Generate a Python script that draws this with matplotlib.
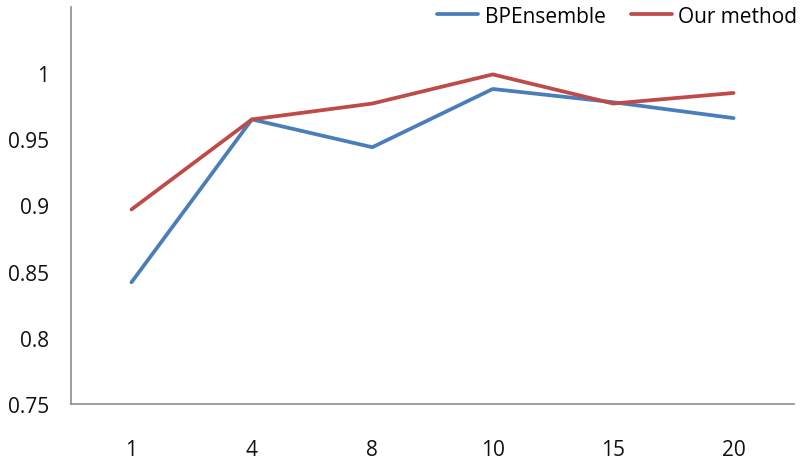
import matplotlib.pyplot as plt

# ensemble size vs. accuracy
sizes = ['1', '4', '8', '10', '15', '20']
bp_ensemble = [0.842, 0.965, 0.944, 0.988, 0.978, 0.966]
our_method = [0.897, 0.965, 0.977, 0.999, 0.977, 0.985]

plt.rcParams['font.family'] = ['Open Sans', 'DejaVu Sans']

fig = plt.figure(figsize=(8.01, 4.64), dpi=100)
ax = fig.add_axes([0.089, 0.127, 0.902, 0.856])

x = range(len(sizes))
ax.plot(x, bp_ensemble, color='#4a7ebb', lw=2.7, label='BPEnsemble', solid_capstyle='round')
ax.plot(x, our_method, color='#be4b48', lw=2.7, label='Our method', solid_capstyle='round')

ax.set_xlim(-0.5, len(sizes) - 0.5)
ax.set_ylim(0.75, 1.05)
ax.set_xticks(list(x))
ax.set_xticklabels(sizes)
ax.set_yticks([0.75, 0.8, 0.85, 0.9, 0.95, 1.0])
ax.set_yticklabels(['0.75', '0.8', '0.85', '0.9', '0.95', '1'])
ax.tick_params(length=0, labelsize=15, colors='#111111')
ax.tick_params(axis='y', pad=16)
ax.tick_params(axis='x', pad=25)

for side in ['top', 'right']:
    ax.spines[side].set_visible(False)
for side in ['left', 'bottom']:
    ax.spines[side].set_color('#8c8c8c')
    ax.spines[side].set_linewidth(1.2)

ax.legend(loc='upper right', bbox_to_anchor=(1.031, 1.05), ncol=2, frameon=False,
          fontsize=15, handlelength=2.0, handletextpad=0.3, columnspacing=1.2)

fig.savefig('out.png', dpi=100)
